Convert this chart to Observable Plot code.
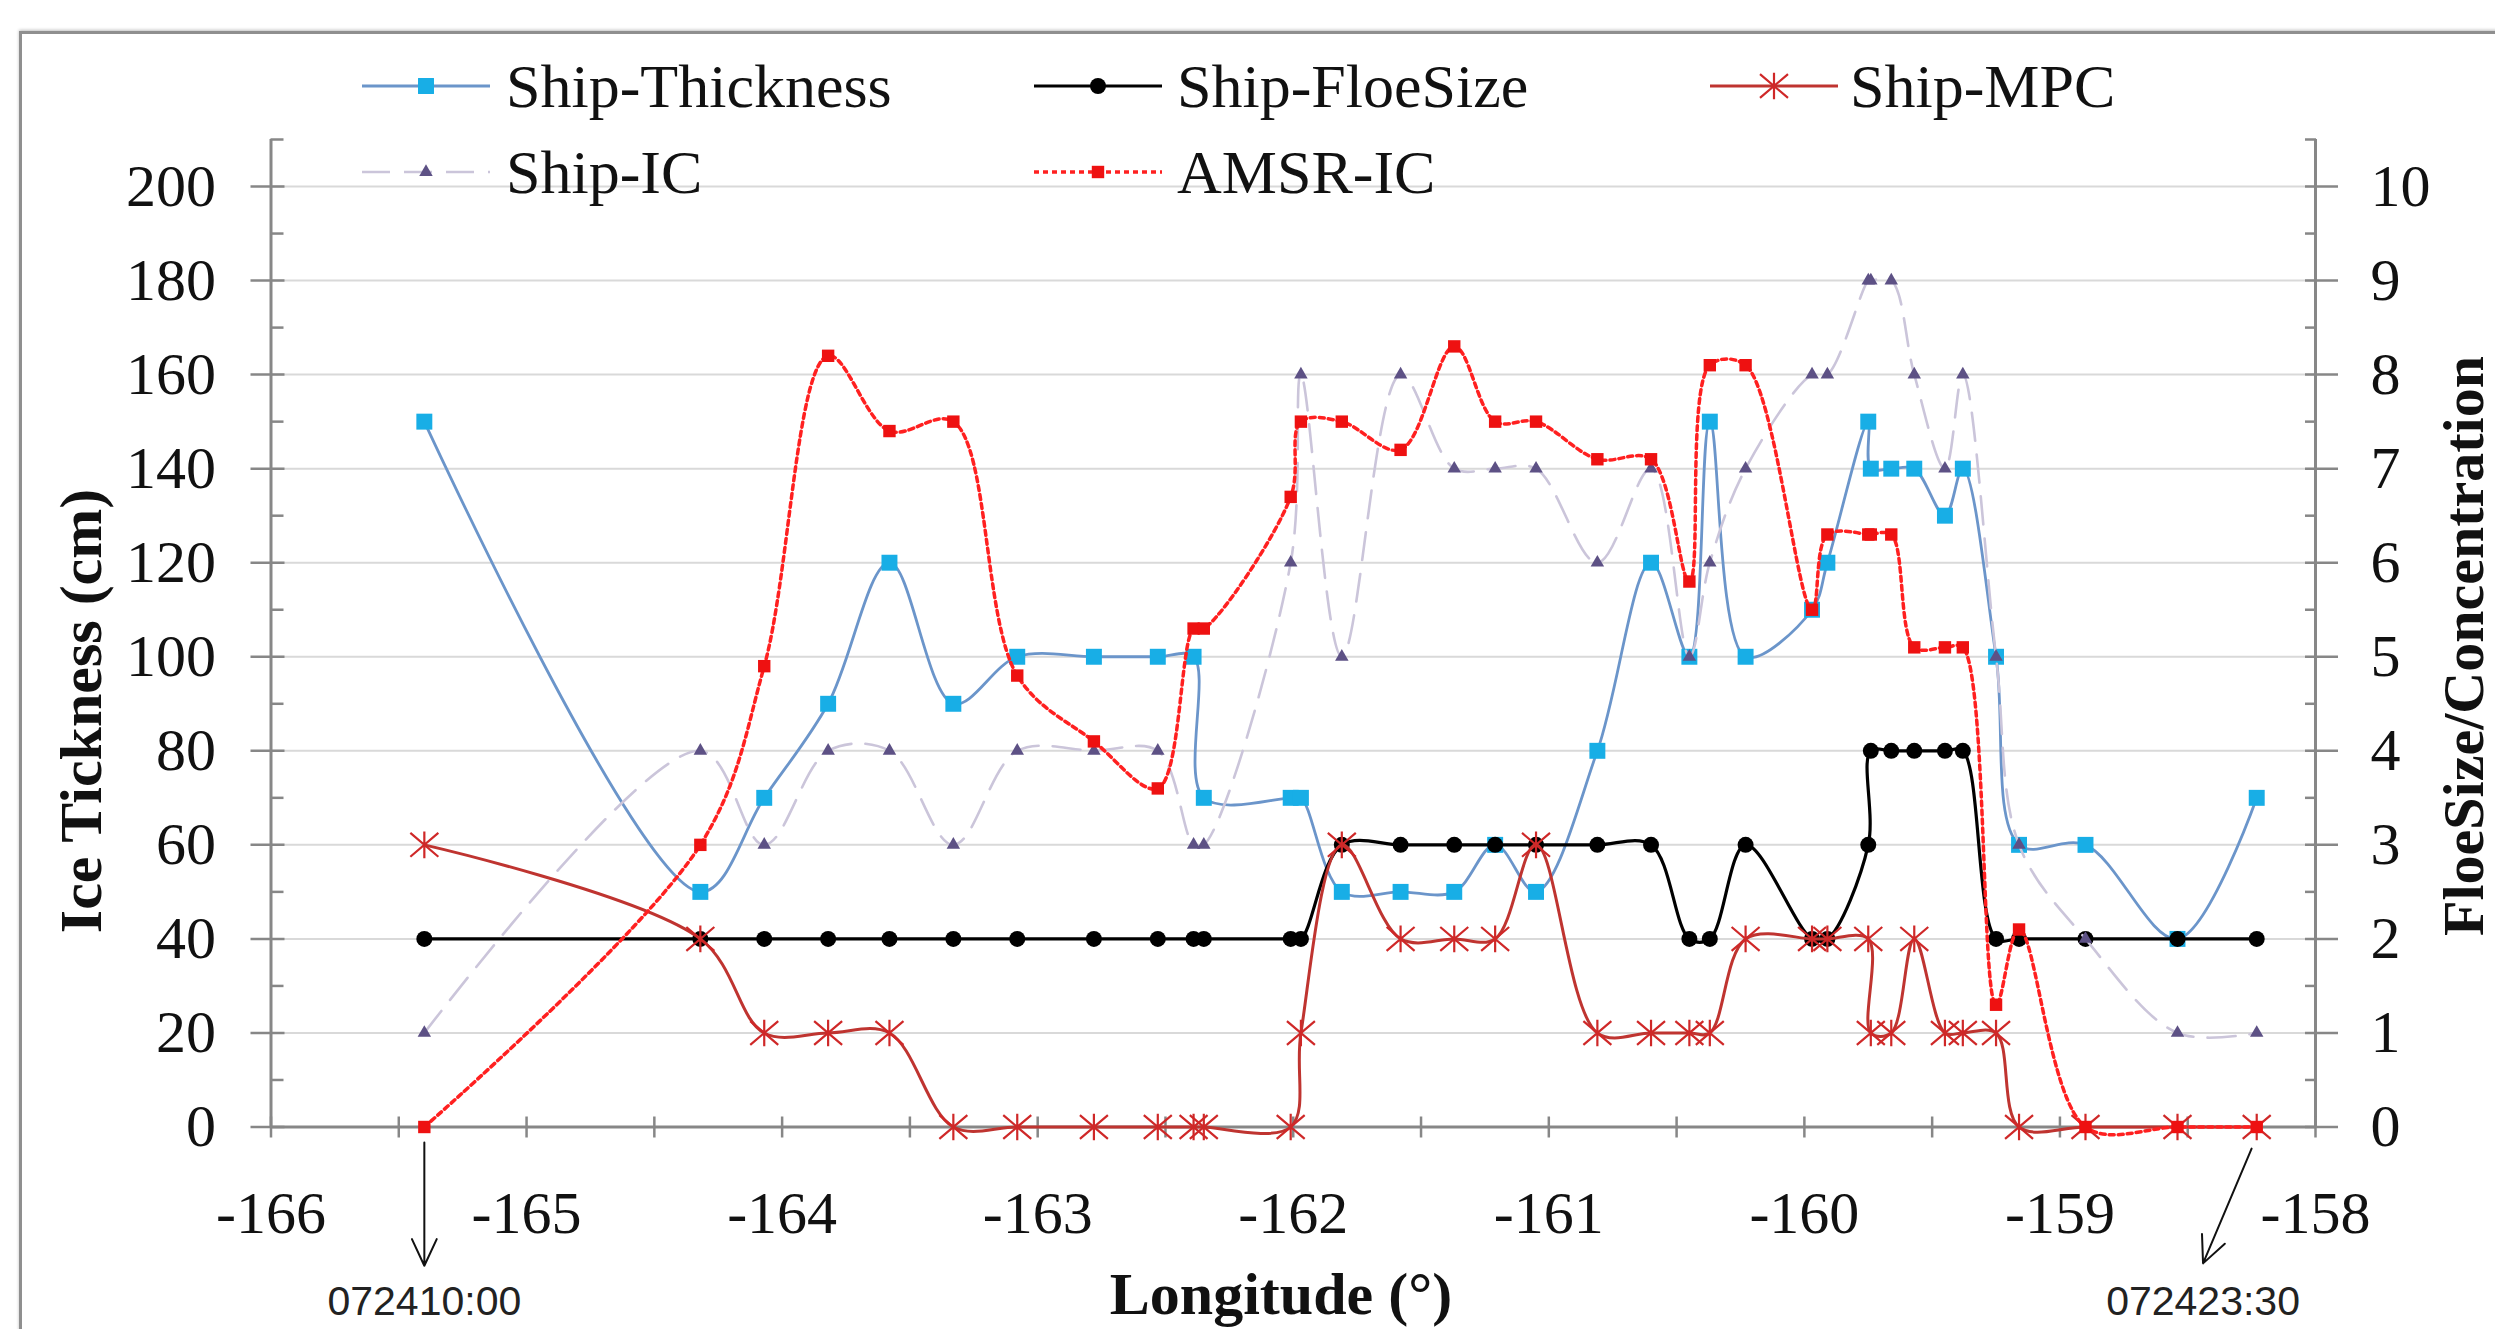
<!DOCTYPE html>
<html>
<head>
<meta charset="utf-8">
<script src="https://cdn.jsdelivr.net/npm/d3@7"></script>
<script src="https://cdn.jsdelivr.net/npm/@observablehq/plot@0.6"></script>
<style>
html, body { margin: 0; padding: 0; width: 2495px; height: 1329px; overflow: hidden; background: #fff; }
#wrap { position: relative; width: 2495px; height: 1329px; overflow: hidden; }
#frame { position: absolute; left: 19px; top: 31px; width: 2600px; height: 1400px; border: 3px solid #8f8f8f; box-shadow: 0 -1px 3px rgba(0,0,0,0.25); }
#chart { position: absolute; left: 0; top: 0; }
.lgtext { position: absolute; font-family: "Liberation Serif", serif; font-size: 62px; color: #111; line-height: 1; white-space: nowrap; transform: translateY(-50%); }
.lgsample { position: absolute; overflow: visible; }
.title { position: absolute; font-family: "Liberation Serif", serif; font-weight: bold; font-size: 60px; line-height: 1; white-space: nowrap; color: #111; }
</style>
</head>
<body>
<div id="wrap"><div id="frame"></div><div id="chart"></div></div>
<script>
// ---------------- data ----------------
const lon = [-165.40, -164.32, -164.07, -163.82, -163.58, -163.33, -163.08, -162.78, -162.53, -162.39,
             -162.35, -162.01, -161.97, -161.81, -161.58, -161.37, -161.21, -161.05, -160.81, -160.60,
             -160.45, -160.37, -160.23, -159.97, -159.91, -159.75, -159.74, -159.66, -159.57, -159.45,
             -159.38, -159.25, -159.16, -158.90, -158.54, -158.23];
const thickness = [150, 50, 70, 90, 120, 90, 100, 100, 100, 100,
                   70, 70, 70, 50, 50, 50, 60, 50, 80, 120,
                   100, 150, 100, 110, 120, 150, 140, 140, 140, 130,
                   140, 100, 60, 60, 40, 70];
const floeSize = [2, 2, 2, 2, 2, 2, 2, 2, 2, 2,
                  2, 2, 2, 3, 3, 3, 3, 3, 3, 3,
                  2, 2, 3, 2, 2, 3, 4, 4, 4, 4,
                  4, 2, 2, 2, 2, 2];
const mpc = [3, 2, 1, 1, 1, 0, 0, 0, 0, 0,
             0, 0, 1, 3, 2, 2, 2, 3, 1, 1,
             1, 1, 2, 2, 2, 2, 1, 1, 2, 1,
             1, 1, 0, 0, 0, 0];
const shipIC = [1, 4, 3, 4, 4, 3, 4, 4, 4, 3,
                3, 6, 8, 5, 8, 7, 7, 7, 6, 7,
                5, 6, 7, 8, 8, 9, 9, 9, 8, 7,
                8, 5, 3, 2, 1, 1];
const amsrIC = [0, 3, 4.9, 8.2, 7.4, 7.5, 4.8, 4.1, 3.6, 5.3,
                5.3, 6.7, 7.5, 7.5, 7.2, 8.3, 7.5, 7.5, 7.1, 7.1,
                5.8, 8.1, 8.1, 5.5, 6.3, 6.3, 6.3, 6.3, 5.1, 5.1,
                5.1, 1.3, 2.1, 0, 0, 0];

const seriesNames = ["Ship-Thickness", "Ship-FloeSize", "Ship-MPC", "Ship-IC", "AMSR-IC"];
const leftTicks = [0, 20, 40, 60, 80, 100, 120, 140, 160, 180, 200];
const leftMinorTicks = [10, 30, 50, 70, 90, 110, 130, 150, 170, 190, 210];
const rightTickLabels = [0, 1, 2, 3, 4, 5, 6, 7, 8, 9, 10];
const xTickLabels = [-166, -165, -164, -163, -162, -161, -160, -159, -158];
const xMinorTicks = [-165.5, -164.5, -163.5, -162.5, -161.5, -160.5, -159.5, -158.5];
const xDomain = [-166, -158];
const yDomain = [0, 210];
const rightFactor = 20;   // left units per right unit (200 / 10)
const annotationLabels = ["072410:00", "072423:30"];

// ---------------- derived table ----------------
const rows = lon.map((x, i) => ({
  lon: x,
  thickness: thickness[i],
  floe: floeSize[i] * rightFactor,
  mpc: mpc[i] * rightFactor,
  shipIC: shipIC[i] * rightFactor,
  amsr: amsrIC[i] * rightFactor
}));

// annotation arrows: from first / last sample down to time stamps
const annos = [
  {label: annotationLabels[0], lon: lon[0], tip: lon[0], y1: -3.3, y2: -29.5, ly: -37.2},
  {label: annotationLabels[1], lon: lon[lon.length - 1] - 0.02, tip: lon[lon.length - 1] - 0.21, y1: -4.6, y2: -29.0, ly: -37.2}
];

// Excel-like star marker: X plus vertical bar
const excelStar = {
  draw(ctx, size) {
    const r = Math.sqrt(size / Math.PI);
    ctx.moveTo(-r, -r * 0.85); ctx.lineTo(r, r * 0.85);
    ctx.moveTo(r, -r * 0.85); ctx.lineTo(-r, r * 0.85);
    ctx.moveTo(0, -r * 0.95); ctx.lineTo(0, r * 0.95);
  }
};

const series = [
  {name: seriesNames[0], key: "thickness", stroke: "#6b95ca", sw: 2.8, dash: undefined, symbol: "square", d3sym: d3.symbolSquare, r: 9, fill: "#18aee6", mstroke: "none", msw: 0},
  {name: seriesNames[1], key: "floe", stroke: "#000000", sw: 3.2, dash: undefined, symbol: "circle", d3sym: d3.symbolCircle, r: 8, fill: "#000000", mstroke: "none", msw: 0},
  {name: seriesNames[2], key: "mpc", stroke: "#bf3430", sw: 3, dash: undefined, symbol: excelStar, d3sym: excelStar, r: 14, fill: "none", mstroke: "#cf2828", msw: 2.2},
  {name: seriesNames[3], key: "shipIC", stroke: "#cbc5da", sw: 2.6, dash: "28,14", symbol: "triangle", d3sym: d3.symbolTriangle, r: 5, fill: "#5d5185", mstroke: "none", msw: 0},
  {name: seriesNames[4], key: "amsr", stroke: "#ff2020", sw: 3.5, dash: "5,4", symbol: "square", d3sym: d3.symbolSquare, r: 7, fill: "#ee1111", mstroke: "none", msw: 0}
];

const axisColor = "#878787";

const seriesMarks = series.flatMap(s => [
  Plot.line(rows, {x: "lon", y: s.key, curve: "catmull-rom", stroke: s.stroke, strokeWidth: s.sw, strokeDasharray: s.dash}),
  Plot.dot(rows, {x: "lon", y: s.key, symbol: s.symbol, r: s.r, fill: s.fill, stroke: s.mstroke, strokeWidth: s.msw})
]);

const chart = Plot.plot({
  width: 2495,
  height: 1329,
  marginLeft: 270.5,
  marginRight: 180,
  marginTop: 139,
  marginBottom: 202.5,
  x: {domain: xDomain},
  y: {domain: yDomain},
  style: {fontFamily: "'Liberation Serif', serif", fontSize: "60px", background: "transparent", overflow: "visible", color: "#111"},
  marks: [
    Plot.ruleY(leftTicks.filter(d => d > 0), {stroke: "#d9d9d9", strokeWidth: 2}),
    // axis lines
    Plot.ruleX(xDomain, {y1: yDomain[0], y2: yDomain[1], stroke: axisColor, strokeWidth: 3}),
    Plot.ruleY([0], {stroke: axisColor, strokeWidth: 3}),
    // left ticks (cross) + minor (inside)
    Plot.axisY(leftTicks, {anchor: "left", tickSize: 34, dx: 14, fill: "none", stroke: axisColor, strokeWidth: 2.5, label: null}),
    Plot.axisY(leftMinorTicks, {anchor: "left", tickSize: 13, dx: 13, fill: "none", stroke: axisColor, strokeWidth: 2.5, label: null}),
    Plot.axisY(leftTicks, {anchor: "left", tickSize: 0, tickPadding: 55, fontSize: 60, fill: "#111", label: null, tickFormat: d => String(d)}),
    // right ticks
    Plot.axisY(leftTicks, {anchor: "right", tickSize: 33, dx: -11, fill: "none", stroke: axisColor, strokeWidth: 2.5, label: null}),
    Plot.axisY(leftMinorTicks, {anchor: "right", tickSize: 11, dx: -11, fill: "none", stroke: axisColor, strokeWidth: 2.5, label: null}),
    Plot.axisY(rightTickLabels.map(d => d * rightFactor), {anchor: "right", tickSize: 0, tickPadding: 55, fontSize: 60, fill: "#111", label: null, tickFormat: d => String(d / rightFactor)}),
    // x ticks
    Plot.axisX(xTickLabels.concat(xMinorTicks), {anchor: "bottom", tickSize: 21, dy: -10, fill: "none", stroke: axisColor, strokeWidth: 2.5, label: null}),
    Plot.axisX(xTickLabels, {anchor: "bottom", tickSize: 0, tickPadding: 63, fontSize: 60, fill: "#111", label: null, tickFormat: d => String(d)}),
    // series
    ...seriesMarks,
    // annotations
    Plot.arrow(annos, {x1: "lon", y1: "y1", x2: "tip", y2: "y2", stroke: "#111", strokeWidth: 2, headLength: 22, headAngle: 50}),
    Plot.text(annos, {x: "tip", y: "ly", text: "label", fontFamily: "'Liberation Sans', Arial, sans-serif", fontSize: 41, fill: "#222"})
  ]
});
document.getElementById("chart").appendChild(chart);

// ---------------- legend ----------------
const wrap = document.getElementById("wrap");
const legendCols = [{sx: 362, tx: 506}, {sx: 1034, tx: 1177}, {sx: 1710, tx: 1850}];
const legendRows = [86, 172];
series.forEach((s, i) => {
  const col = legendCols[i % 3], rowY = legendRows[Math.floor(i / 3)];
  const w = 128, h = 44;
  const svg = d3.select(wrap).append("svg").attr("class", "lgsample")
    .attr("width", w).attr("height", h)
    .style("left", col.sx + "px").style("top", (rowY - h / 2) + "px");
  svg.append("line").attr("x1", 0).attr("x2", w).attr("y1", h / 2).attr("y2", h / 2)
    .attr("stroke", s.stroke).attr("stroke-width", s.sw).attr("stroke-dasharray", s.dash || null);
  svg.append("path").attr("transform", `translate(${w / 2},${h / 2})`)
    .attr("d", d3.symbol(s.d3sym, Math.PI * s.r * s.r)())
    .attr("fill", s.fill).attr("stroke", s.mstroke).attr("stroke-width", s.msw);
  const t = document.createElement("div");
  t.className = "lgtext";
  t.textContent = s.name;
  t.style.left = col.tx + "px";
  t.style.top = rowY + "px";
  wrap.appendChild(t);
});

// ---------------- axis titles ----------------
function title(text, cx, cy, rotate, size) {
  const d = document.createElement("div");
  d.className = "title";
  d.textContent = text;
  d.style.left = cx + "px";
  d.style.top = cy + "px";
  if (size) d.style.fontSize = size + "px";
  d.style.transform = `translate(-50%,-50%)` + (rotate ? ` rotate(${rotate}deg)` : "");
  wrap.appendChild(d);
}
title("Ice Tickness (cm)", 81, 711, -90);
title("FloeSize/Concentration", 2464, 646, -90, 58);
title("Longitude (°)", 1281, 1294, 0);
</script>
</body>
</html>
